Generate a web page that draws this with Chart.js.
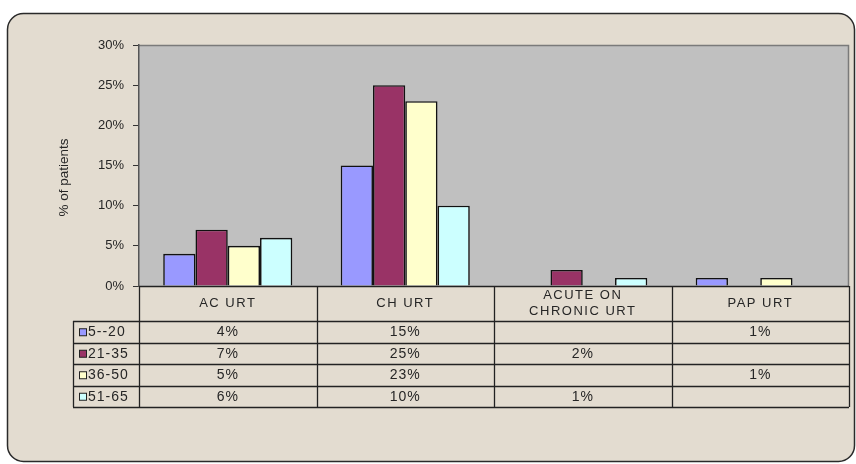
<!DOCTYPE html>
<html>
<head>
<meta charset="utf-8">
<script src="https://cdn.jsdelivr.net/npm/chart.js@4/dist/chart.umd.min.js"></script>
<style>
  html, body { margin: 0; padding: 0; background: #fff; }
  canvas { display: block; }
</style>
</head>
<body>
<canvas id="chart" width="856" height="464"></canvas>
<script>
// data
const categories = [['AC URT'], ['CH URT'], ['ACUTE ON', 'CHRONIC URT'], ['PAP URT']];
const seriesLabels = ['5--20', '21-35', '36-50', '51-65'];
const age5to20 = [4, 15, null, 1];
const age21to35 = [7, 25, 2, null];
const age36to50 = [5, 23, null, 1];
const age51to65 = [6, 10, 1, null];
const yTicks = [0, 5, 10, 15, 20, 25, 30];
const yTitle = '% of patients';

const seriesValues = [age5to20, age21to35, age36to50, age51to65];
const seriesColors = ['#9999ff', '#993366', '#ffffcc', '#ccffff'];
const FONT = '"Liberation Sans", Arial, sans-serif';
const INK = '#262626';

// parchment frame + grey plot area
const backdrop = {
    id: 'backdrop',
    beforeDraw(chart) {
        const ctx = chart.ctx;
        const a = chart.chartArea;
        ctx.save();
        ctx.fillStyle = '#fff';
        ctx.fillRect(0, 0, chart.width, chart.height);
        ctx.beginPath();
        ctx.roundRect(7.5, 13.5, 847, 448, 16);
        ctx.fillStyle = '#e3dcd0';
        ctx.fill();
        ctx.lineWidth = 1.5;
        ctx.strokeStyle = '#2a2a2a';
        ctx.stroke();
        ctx.fillStyle = '#c0c0c0';
        ctx.fillRect(a.left, a.top, a.right - a.left, a.bottom - a.top);
        ctx.strokeStyle = '#7a7a7a';
        ctx.lineWidth = 1.5;
        ctx.beginPath();
        ctx.moveTo(a.left, a.top + 0.5);
        ctx.lineTo(a.right - 0.5, a.top + 0.5);
        ctx.lineTo(a.right - 0.5, a.bottom);
        ctx.stroke();

        // y axis title, sits a little below the middle like the original
        ctx.translate(64, a.top + (a.bottom - a.top) * 0.55);
        ctx.rotate(-Math.PI / 2);
        ctx.fillStyle = INK;
        ctx.font = '13.5px ' + FONT;
        ctx.textAlign = 'center';
        ctx.textBaseline = 'middle';
        ctx.fillText(yTitle, 0, 0);
        ctx.restore();
    }
};

// Excel style data table under the x axis
const dataTable = {
    id: 'dataTable',
    afterDraw(chart) {
        const ctx = chart.ctx;
        const a = chart.chartArea;
        const x = chart.scales.x;
        const step = x.getPixelForValue(1) - x.getPixelForValue(0);
        const edges = categories.map((c, i) => x.getPixelForValue(i) - step / 2);
        edges.push(x.getPixelForValue(categories.length - 1) + step / 2);
        const headBottom = a.bottom + 35;
        const rowH = 21.5;
        const legendLeft = 73;
        const tableBottom = headBottom + rowH * seriesLabels.length;

        ctx.save();
        ctx.strokeStyle = '#222';
        ctx.lineWidth = 1.3;
        ctx.beginPath();
        // x axis line
        ctx.moveTo(a.left, Math.round(a.bottom) + 0.5);
        ctx.lineTo(a.right, Math.round(a.bottom) + 0.5);
        edges.forEach(e => {
            ctx.moveTo(Math.round(e) + 0.5, a.bottom);
            ctx.lineTo(Math.round(e) + 0.5, tableBottom);
        });
        for (let r = 0; r <= seriesLabels.length; r++) {
            const y = Math.round(headBottom + r * rowH) + 0.5;
            ctx.moveTo(legendLeft, y);
            ctx.lineTo(a.right, y);
        }
        ctx.moveTo(legendLeft + 0.5, headBottom);
        ctx.lineTo(legendLeft + 0.5, tableBottom);
        ctx.stroke();

        ctx.fillStyle = INK;
        ctx.textAlign = 'center';
        ctx.textBaseline = 'middle';
        ctx.font = '13px ' + FONT;
        ctx.letterSpacing = '1.5px';
        categories.forEach((lines, i) => {
            const cx = (edges[i] + edges[i + 1]) / 2;
            const mid = (a.bottom + headBottom) / 2;
            lines.forEach((t, k) => {
                ctx.fillText(t, cx, mid + (k - (lines.length - 1) / 2) * 16);
            });
        });

        ctx.font = '14px ' + FONT;
        ctx.letterSpacing = '1px';
        ctx.lineWidth = 1;
        seriesValues.forEach((vals, r) => {
            const cy = headBottom + r * rowH + rowH / 2 + 0.5;
            vals.forEach((v, i) => {
                if (v === null) return;
                ctx.fillText(v + '%', (edges[i] + edges[i + 1]) / 2, cy);
            });
            // legend key
            ctx.fillStyle = seriesColors[r];
            ctx.fillRect(legendLeft + 6.5, cy - 3.5, 7, 7);
            ctx.strokeRect(legendLeft + 6.5, cy - 3.5, 7, 7);
            ctx.fillStyle = INK;
            ctx.textAlign = 'left';
            ctx.fillText(seriesLabels[r], legendLeft + 15, cy);
            ctx.textAlign = 'center';
        });
        ctx.restore();
    }
};

new Chart(document.getElementById('chart'), {
    type: 'bar',
    data: {
        labels: categories,
        datasets: seriesLabels.map((label, i) => ({
            label: label,
            data: seriesValues[i],
            backgroundColor: seriesColors[i],
            borderColor: '#111',
            borderWidth: 1.6,
            categoryPercentage: 4 / 5.5,
            barPercentage: 1
        }))
    },
    options: {
        responsive: false,
        animation: false,
        layout: { padding: { left: 52, top: 45, right: 7, bottom: 178 } },
        plugins: { legend: { display: false }, tooltip: { enabled: false } },
        scales: {
            x: { display: false },
            y: {
                min: 0,
                max: 30,
                afterFit: s => { s.width = 87; },
                afterBuildTicks: s => { s.ticks = yTicks.map(v => ({ value: v })); },
                ticks: {
                    padding: 9,
                    color: INK,
                    font: { family: FONT, size: 13 },
                    callback: v => v + '%'
                },
                grid: { drawOnChartArea: false, drawTicks: true, tickLength: 6, color: '#333' },
                border: { display: true, color: '#555', width: 1.5 },
                title: { display: false }
            }
        }
    },
    plugins: [backdrop, dataTable]
});
</script>
</body>
</html>
